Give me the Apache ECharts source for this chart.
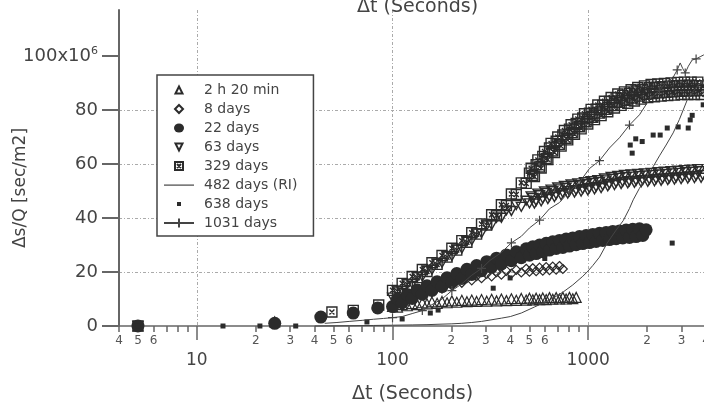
<!DOCTYPE html>
<html><head><meta charset="utf-8">
<script src="https://cdn.jsdelivr.net/npm/echarts@6/dist/echarts.min.js"></script>
<style>html,body{margin:0;padding:0;background:#fff}#c{width:704px;height:407px}</style>
</head><body><div id="c"></div>
<script>
// ---------- data ----------
const seriesNames = ['2 h 20 min','8 days','22 days','63 days','329 days','482 days (RI)','638 days','1031 days'];
const minorTickValues = [4,5,6,7,8,9,20,30,40,50,60,70,80,90,200,300,400,500,600,700,800,900,2000,3000,4000];
const minorLabelValues = [4,5,6,20,30,40,50,60,200,300,400,500,600,2000,3000,4000];
const majorTickValues = [10,100,1000];
const yTickValues = [0,20,40,60,80,100];

// shared time grid (seconds) for the dense readings
const timeGrid = [100,106,112,119,126,134,142,150,159,169,179,190,201,213,226,240,254,269,285,303,321,340,360,382,405,429,455,482,
 501,521,542,564,586,610,634,659,686,713,742,771,802,834,868,902,938,976,1015,1056,1098,1142,1187,1235,1284,1336,1389,1445,1502,1562,
 1625,1690,1757,1828,1901,1977,2056,2138,2224,2313,2405,2501,2601,2705,2814,2926,3043,3165,3291,3423,3560,3702,3850];
// extra (in-between) reading times of the late, densely sampled part
const timeGridMid = [511,531,553,575,598,622,646,672,699,727,756,786,818,851,885,920,957,995,1035,1077,
 1120,1164,1211,1259,1310,1362,1417,1473,1532,1593,1657,1723,1792,1864,1939,2016,2097,2181,2268,2359,
 2453,2551,2653,2759,2869,2984,3104,3228,3357,3491,3631,3776];

// 2 h 20 min
const t2h20Early = [5, 25];
const v2h20Early = [0, 1.5];
const v2h20 = [7.3,7.0,7.9,7.5,8.3,7.9,8.6,8.2,8.9,8.4,
 9.1,8.6,9.3,8.8,9.5,9.0,9.6,9.1,9.8,9.2,
 9.9,9.3,10.0,9.4,10.1,9.5,10.2,9.6,10.3,9.7,
 10.3,9.8,10.4,9.8,10.5,9.9,10.5,10.0,10.6,10.0,
 10.6,10.1,10.6];
const start2h20 = 0;
// 8 days
const t8dEarly = [5];
const v8dEarly = [0];
const v8d = [9.3,8.9,10.6,10.0,11.9,11.3,13.1,12.5,14.4,13.8,
 15.6,15.0,16.7,16.0,17.7,16.9,18.5,17.7,19.3,18.4,
 19.9,19.0,20.4,19.4,20.8,19.8,21.2,20.1,21.4,20.3,
 21.6,20.5,21.8,20.7,22.0,20.9,22.2,21.1];
const start8d = 1;
// 22 days
const t22dEarly = [5, 25, 43, 63, 84];
const v22dEarly = [0, 1, 3.3, 4.8, 6.7];
const v22d = [7.2,10.0,8.6,11.6,10.2,13.3,11.8,14.9,13.2,16.4,
 14.6,17.9,16.2,19.4,17.6,21.0,19.1,22.4,20.5,23.8,
 21.8,25.1,23.0,26.3,24.2,27.5,25.3,28.6,26.2,29.3,
 26.8,30.0,27.5,30.6,28.1,31.2,28.7,31.7,29.1,32.2,
 29.6,32.6,30.1,33.1,30.5,33.5,30.9,33.9,31.3,34.3,
 31.7,34.6,32.0,35.0,32.3,35.2,32.6,35.5,32.8,35.8,
 33.1,36.0,33.5,35.6];
const start22d = 0;
// 63 days
const t63dEarly = [5];
const v63dEarly = [0];
const v63d = [10.5,12.8,13.0,15.4,15.6,18.1,18.3,20.6,20.8,23.2,
 23.4,25.8,25.9,28.3,28.7,31.4,31.7,34.3,34.4,37.2,
 37.4,40.1,40.1,42.8,42.6,44.8,44.1,46.4,45.4,47.4,
 46.3,48.4,47.2,49.2,47.9,49.9,48.7,50.6,49.3,51.2,
 49.9,51.8,50.3,52.1,50.7,52.5,51.1,52.9,51.5,53.3,
 52.0,53.9,52.6,54.5,53.1,54.9,53.4,55.1,53.6,55.3,
 53.8,55.5,54.0,55.7,54.2,55.9,54.4,56.1,54.6,56.3,
 54.8,56.5,55.0,56.7,55.2,56.9,55.4,57.1,55.6,57.3,
 55.9];
const v63dMid = [48.0,45.3,49.0,46.2,49.8,47.0,50.5,47.7,51.3,48.4,
 51.9,49.0,52.4,49.4,52.8,49.8,53.2,50.2,53.6,50.6,
 54.0,51.1,54.6,51.7,55.2,52.2,55.6,52.6,55.9,52.8,
 56.1,53.0,56.3,53.2,56.5,53.4,56.7,53.6,56.9,53.8,
 57.1,54.0,57.3,54.2,57.5,54.4,57.7,54.6,57.9,54.8,
 58.1,54.9];
const start63d = 0;
// 329 days
const t329dEarly = [5, 49, 63, 85];
const v329dEarly = [0, 5.2, 5.8, 7.8];
const v329d = [13.2,12.9,15.8,15.4,18.3,17.9,20.9,20.2,23.4,22.8,
 26.1,25.5,28.8,28.1,31.6,31.0,34.5,34.0,37.8,37.4,
 41.2,40.8,44.9,44.6,48.9,48.7,53.0,52.8,56.6,55.7,
 59.7,58.9,62.8,62.0,65.9,64.8,68.4,67.2,70.7,69.5,
 72.9,71.6,75.0,73.8,77.0,75.6,78.8,77.3,80.3,78.8,
 81.7,80.2,83.1,81.6,84.5,82.8,85.4,83.6,86.2,84.4,
 87.0,85.1,87.6,85.8,88.2,86.1,88.4,86.3,88.6,86.5,
 88.8,86.7,89.0,86.9,89.1,87.0,89.2,87.1,89.0,87.2,
 88.9];
const v329dMid = [58.4,55.3,61.5,58.5,64.6,61.6,67.6,64.2,70.0,66.6,
 72.4,68.9,74.5,71.0,76.6,73.0,78.6,74.8,80.2,76.4,
 81.8,77.9,83.2,79.3,84.6,80.7,85.9,81.7,86.7,82.5,
 87.5,83.3,88.3,84.0,88.9,84.6,89.4,84.9,89.6,85.1,
 89.8,85.3,90.0,85.5,90.2,85.7,90.3,85.7,90.3,85.7,
 90.3,85.7];
const start329d = 0;
// 482 days (RI)
const t482d = [40,60,80,100,126,150,179,201,226,254,285,315,360,400,455,530,610,686,745,834,
 938,988,1056,1142,1250,1389,1510,1625,1698,1828,1977,2148,2313,2501,2718,2926,3207,3450,3735,3900];
const v482d = [0,0.1,0.2,0.3,0.4,0.5,0.7,0.8,1.0,1.3,1.7,2.2,2.9,3.5,4.8,7.0,9.0,11.0,12.6,15.2,
 18.4,20.0,22.4,25.5,30.7,35.5,39.0,43.5,46.7,51.0,55.0,59.0,63.0,67.0,71.5,76.5,83.7,87.0,90.0,91.5];
// 638 days
const t638d = [5,13.6,21,32,74,112,156,171,327,399,600,1640,1678,1750,1888,2148,2333,2535,2687,2884,3245,3322,3400,3870];
const v638d = [0,0,0,0,1.5,2.6,4.8,5.9,14,17.8,25,67,64,69.3,68.3,70.7,70.7,73.3,30.7,73.7,73.3,76.3,78,81.9];
// 1031 days
const t1031d = [45,52,60,70,80,90,100,112,126,142,159,179,201,226,254,285,315,360,405,455,
 501,564,634,713,802,902,1015,1142,1284,1445,1625,1828,2056,2313,2501,2705,2850,2952,3043,3133,
 3250,3400,3560,3735,3900];
const v1031d = [1.0,1.3,1.7,2.1,2.5,2.8,3.1,3.5,4.6,5.7,7.9,10.0,13.1,15.6,18.8,21.3,24.3,27.2,30.8,33.2,
 36.3,39.2,43.4,45.7,49.9,53.2,58.3,61.2,65.9,69.7,74.4,78.2,83.9,87.2,90.3,91.8,94.8,97.4,95.3,93.7,
 96.2,98.5,98.9,99.7,100.4];

// ---------- build ----------
const FONT = 'DejaVu Sans';
const INK = '#2b2b2b';
const TXT = '#444';
const LOG = Math.log10;
const X_MIN = 4, X_MAX = 4000;

function pairs(ts, vs) { return ts.map((t, i) => [t, vs[i]]); }
function withGrid(earlyT, earlyV, vals, start) {
  return pairs(earlyT, earlyV).concat(vals.map((v, i) => [timeGrid[start + i], v]));
}
const open = w => ({ color: 'rgba(255,255,255,0)', borderColor: INK, borderWidth: w, opacity: 1 });

const SYM_DOWN = 'path://M0,0L10,0L5,9Z';
const SYM_BOX = 'path://M0,0H10V10H0Z M2.5,2.5L7.5,7.5 M7.5,2.5L2.5,7.5';
const SYM_PLUS = 'path://M5,0V10 M0,5H10';

const series = [
  { name: '329 days', type: 'scatter',
    data: withGrid(t329dEarly, v329dEarly, v329d, start329d).concat(pairs(timeGridMid, v329dMid)),
    symbol: SYM_BOX, symbolSize: 10, itemStyle: open(1.4) },
  { name: '63 days', type: 'scatter',
    data: withGrid(t63dEarly, v63dEarly, v63d, start63d).concat(pairs(timeGridMid, v63dMid)),
    symbol: SYM_DOWN, symbolSize: 10, itemStyle: open(1.4) },
  { name: '8 days', type: 'scatter', data: withGrid(t8dEarly, v8dEarly, v8d, start8d),
    symbol: 'diamond', symbolSize: 9, itemStyle: open(1.2) },
  { name: '2 h 20 min', type: 'scatter', data: withGrid(t2h20Early, v2h20Early, v2h20, start2h20),
    symbol: 'triangle', symbolSize: 10, itemStyle: open(1.2) },
  { name: '22 days', type: 'scatter', data: withGrid(t22dEarly, v22dEarly, v22d, start22d),
    symbol: 'circle', symbolSize: 13, itemStyle: { color: INK, opacity: 1 } },
  { name: '638 days', type: 'scatter', data: pairs(t638d, v638d),
    symbol: 'rect', symbolSize: 5, itemStyle: { color: INK, opacity: 1 } },
  { name: '482 days (RI)', type: 'line', data: pairs(t482d, v482d), symbol: 'none',
    lineStyle: { color: '#444', width: 1 }, itemStyle: { color: '#444' } },
  { name: '1031 days', type: 'line', symbol: SYM_PLUS, symbolSize: 9,
    data: t1031d.map((t, i) => (i >= 6 && i % 3 === 0) ? { value: [t, v1031d[i]] } : { value: [t, v1031d[i]], symbol: 'none' }),
    lineStyle: { color: '#444', width: 1 }, itemStyle: { color: '#444', borderColor: '#444', borderWidth: 1.2 } }
];
series.forEach(s => {
  s.xAxisIndex = 0; s.yAxisIndex = 0; s.animation = false; s.clip = false;
  s.symbolKeepAspect = true; s.emphasis = { disabled: true };
});

// legend icons drawn inside a 30x11 box so that they keep their shape
const legendIcons = {
  '2 h 20 min': 'path://M0,0 M11.5,9 L15,2 L18.5,9 Z M30,11',
  '8 days': 'path://M0,0 M15,1.5 L19,5.5 L15,9.5 L11,5.5 Z M30,11',
  '22 days': 'path://M0,0 M10,5.5 A5,4.5 0 1 0 20,5.5 A5,4.5 0 1 0 10,5.5 Z M30,11',
  '63 days': 'path://M0,0 M11.5,2 L18.5,2 L15,9 Z M30,11',
  '329 days': 'path://M0,0 M11,1.5 H19 V9.5 H11 Z M13,3.5 L17,7.5 M17,3.5 L13,7.5 M30,11',
  '482 days (RI)': 'path://M0,0 M0,5H30V6.2H0Z M30,11',
  '638 days': 'path://M0,0 M13,3.5H17V7.5H13Z M30,11'
};

const gridLine = { color: '#aaa', type: [3, 2, 1, 2], width: 1 };
const axisCol = '#666';

const option = {
  animation: false,
  textStyle: { fontFamily: FONT },
  title: { text: 'Δt (Seconds)', left: 357, top: -2, padding: 0,
    textStyle: { fontFamily: FONT, fontSize: 19, fontWeight: 'normal', color: TXT } },
  grid: { left: 119, top: 10, width: 587, height: 316, containLabel: false, outerBoundsMode: 'none' },
  legend: {
    orient: 'vertical', left: 157, top: 75,
    padding: [8, 16, 6, 6],
    itemWidth: 30, itemHeight: 11, itemGap: 5,
    backgroundColor: '#fff', borderColor: '#444', borderWidth: 1.5,
    selectedMode: false,
    textStyle: { fontFamily: FONT, fontSize: 14, color: TXT, padding: [0, 0, 0, 5] },
    data: seriesNames.map(n => legendIcons[n] ? { name: n, icon: legendIcons[n] } : { name: n })
  },
  xAxis: [
    { type: 'log', logBase: 10, min: X_MIN, max: X_MAX, position: 'bottom',
      axisLine: { show: false }, axisTick: { show: false }, axisLabel: { show: false },
      minorTick: { show: false }, minorSplitLine: { show: false },
      splitLine: { show: true, showMinLine: false, showMaxLine: false, lineStyle: gridLine } },
    { type: 'value', min: LOG(X_MIN), max: LOG(X_MAX), position: 'bottom',
      axisLine: { show: true, onZero: false, lineStyle: { color: axisCol, width: 1.5 } },
      axisTick: { show: true, customValues: minorTickValues.map(LOG), length: 6, lineStyle: { color: axisCol, width: 1.5 } },
      axisLabel: { show: true, customValues: minorLabelValues.map(LOG), hideOverlap: false,
        formatter: v => String(Math.round(Math.pow(10, v))).charAt(0),
        margin: 9, fontSize: 12, color: '#555', fontFamily: FONT },
      splitLine: { show: false } },
    { type: 'value', min: LOG(X_MIN), max: LOG(X_MAX), position: 'bottom',
      axisLine: { show: false, onZero: false },
      axisTick: { show: true, customValues: majorTickValues.map(LOG), length: 14, lineStyle: { color: axisCol, width: 1.5 } },
      axisLabel: { show: true, customValues: majorTickValues.map(LOG), hideOverlap: false,
        formatter: v => String(Math.round(Math.pow(10, v))),
        margin: 26, fontSize: 17, color: TXT, fontFamily: FONT },
      splitLine: { show: false },
      name: 'Δt (Seconds)', nameLocation: 'middle', nameGap: 59, nameMoveOverlap: false,
      nameTextStyle: { fontSize: 19, color: TXT, fontFamily: FONT } }
  ],
  yAxis: {
    type: 'value', min: 0, max: 117, interval: 20, position: 'left',
    axisLine: { show: true, onZero: false, lineStyle: { color: axisCol, width: 2 } },
    axisTick: { show: true, customValues: yTickValues, length: 17, lineStyle: { color: axisCol, width: 2 } },
    axisLabel: { show: true, customValues: yTickValues, margin: 21, hideOverlap: false,
      formatter: v => v === 100 ? '{a|100x10}{s|6}' : '{a|' + v + '}',
      rich: { a: { fontSize: 18, color: TXT, fontFamily: FONT },
              s: { fontSize: 11, color: TXT, fontFamily: FONT, verticalAlign: 'top', padding: [0, 0, 9, 0] } } },
    splitLine: { show: true, showMinLine: false, showMaxLine: false, lineStyle: gridLine },
    name: 'Δs/Q [sec/m2]', nameLocation: 'middle', nameGap: 90, nameRotate: 90, nameMoveOverlap: false,
    nameTextStyle: { fontSize: 17, color: TXT, fontFamily: FONT, padding: [0, 40, 0, 0] }
  },
  series: series
};

const chart = echarts.init(document.getElementById('c'), null, { renderer: 'canvas' });
chart.setOption(option);
</script>
</body></html>
